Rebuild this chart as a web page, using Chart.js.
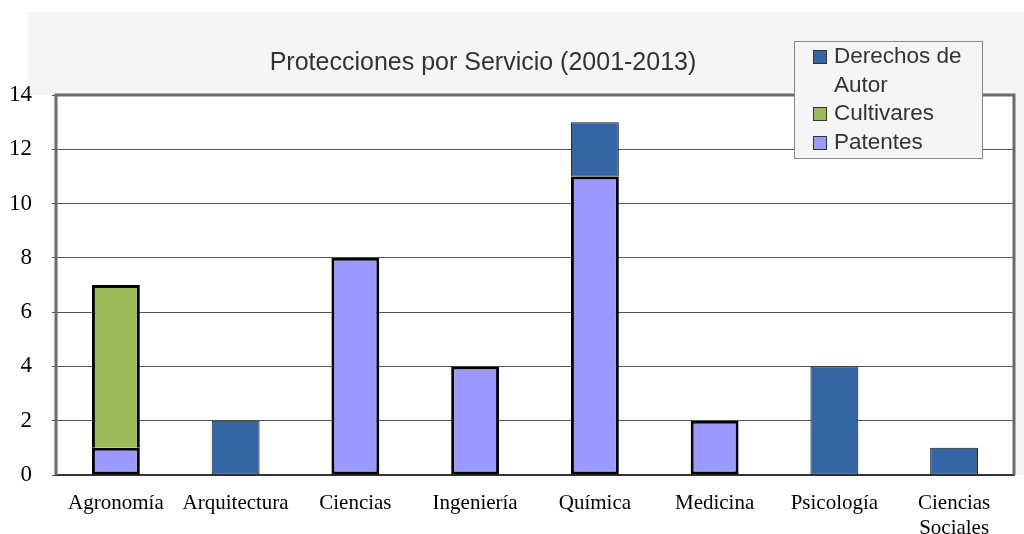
<!DOCTYPE html>
<html>
<head>
<meta charset="utf-8">
<script src="https://cdn.jsdelivr.net/npm/chart.js@4"></script>
<style>
  html, body { margin: 0; padding: 0; background: #ffffff; }
  #wrap { width: 1024px; height: 534px; }
</style>
</head>
<body>
<div id="wrap"><canvas id="barChart" width="1024" height="534"></canvas></div>
<script>
(function () {
    "use strict";

    var categories = ["Agronomía", "Arquitectura", "Ciencias", "Ingeniería", "Química", "Medicina", "Psicología", ["Ciencias", "Sociales"]];
    var patentes = [1, 0, 8, 4, 11, 2, 0, 0];
    var cultivares = [6, 0, 0, 0, 0, 0, 0, 0];
    var derechos = [0, 2, 0, 0, 2, 0, 4, 1];
    var yTicks = [0, 2, 4, 6, 8, 10, 12, 14];
    var title = "Protecciones por Servicio (2001-2013)";

    // gray panel behind title and legend
    var panelPlugin = {
        id: "panel",
        beforeDraw: function (chart) {
            var c = chart.ctx;
            var a = chart.chartArea;
            c.save();
            c.fillStyle = "#f5f5f5";
            c.fillRect(28, 12, 1024 - 28, a.top - 12);
            c.fillRect(a.right, a.top, 1024 - a.right, a.bottom - a.top);
            c.fillStyle = "#ffffff";
            c.fillRect(a.left, a.top, a.right - a.left, a.bottom - a.top);
            c.restore();
        },
        afterDraw: function (chart) {
            var c = chart.ctx;
            var a = chart.chartArea;
            c.save();
            // frame
            c.strokeStyle = "#6a6a6a";
            c.lineWidth = 3;
            c.beginPath();
            c.moveTo(a.left, a.bottom);
            c.lineTo(a.left, a.top);
            c.lineTo(a.right, a.top);
            c.lineTo(a.right, a.bottom);
            c.stroke();

            // title
            c.fillStyle = "#333333";
            c.font = "25px 'Liberation Sans', Arial, sans-serif";
            c.textAlign = "center";
            c.textBaseline = "middle";
            c.fillText(title, 483, 63);

            // legend
            var x = 794, y = 41, w = 188, h = 117;
            c.fillStyle = "#f5f5f5";
            c.fillRect(x, y, w, h);
            c.strokeStyle = "#888888";
            c.lineWidth = 1;
            c.strokeRect(x + 0.5, y + 0.5, w, h);
            var items = [
                { ds: 2, lines: ["Derechos de", "Autor"], y: 57 },
                { ds: 1, lines: ["Cultivares"], y: 114 },
                { ds: 0, lines: ["Patentes"], y: 143 }
            ];
            c.font = "22.5px 'Liberation Sans', Arial, sans-serif";
            c.textAlign = "left";
            items.forEach(function (it) {
                var ds = chart.data.datasets[it.ds];
                c.fillStyle = ds.backgroundColor;
                c.fillRect(813, it.y - 7, 14, 14);
                c.strokeStyle = "#333333";
                c.strokeRect(813.5, it.y - 6.5, 13, 13);
                c.fillStyle = "#333333";
                it.lines.forEach(function (t, i) {
                    c.fillText(t, 834, it.y + i * 29);
                });
            });
            c.restore();
        }
    };

    var ctx = document.getElementById("barChart");
    var myChart = new Chart(ctx, {
        type: "bar",
        data: {
            labels: categories,
            datasets: [{
                label: "Patentes",
                data: patentes,
                backgroundColor: "#9999ff",
                borderColor: "#000000",
                borderWidth: 3,
                borderSkipped: false,
                barPercentage: 0.4,
                categoryPercentage: 1.0
            }, {
                label: "Cultivares",
                data: cultivares,
                backgroundColor: "#9bbb59",
                borderColor: "#000000",
                borderWidth: 3,
                borderSkipped: "start",
                barPercentage: 0.4,
                categoryPercentage: 1.0
            }, {
                label: "Derechos de Autor",
                data: derechos,
                backgroundColor: "#3465a4",
                borderColor: "#1a1a1a",
                borderWidth: 1,
                borderSkipped: false,
                barPercentage: 0.4,
                categoryPercentage: 1.0
            }]
        },
        options: {
            responsive: false,
            animation: false,
            layout: {
                padding: { left: 0, top: 95, right: 10, bottom: 0 }
            },
            plugins: {
                legend: { display: false },
                title: { display: false },
                tooltip: { enabled: false }
            },
            scales: {
                x: {
                    stacked: true,
                    grid: { display: false },
                    border: { color: "#333333", width: 2 },
                    ticks: {
                        color: "#000000",
                        padding: 8,
                        maxRotation: 0,
                        autoSkip: false,
                        font: { family: "'Liberation Serif', 'Times New Roman', serif", size: 21 }
                    },
                    afterFit: function (scale) { scale.height = 59; }
                },
                y: {
                    stacked: true,
                    min: 0,
                    max: 14,
                    afterBuildTicks: function (scale) {
                        scale.ticks = yTicks.map(function (v) { return { value: v }; });
                    },
                    grid: {
                        color: "#555555",
                        lineWidth: 1,
                        drawTicks: true,
                        tickLength: 4
                    },
                    border: { display: false },
                    ticks: {
                        color: "#000000",
                        padding: 20,
                        font: { family: "'Liberation Serif', 'Times New Roman', serif", size: 23 }
                    },
                    afterFit: function (scale) { scale.width = 56; }
                }
            }
        },
        plugins: [panelPlugin]
    });
})();
</script>
</body>
</html>
